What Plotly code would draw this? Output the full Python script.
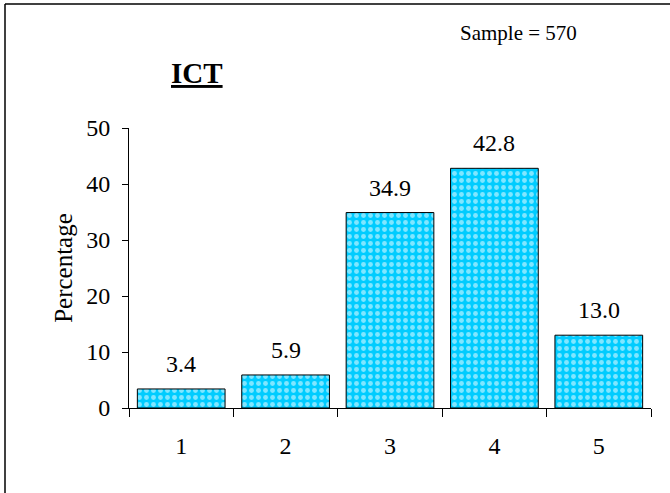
import plotly.graph_objects as go

categories = ["1", "2", "3", "4", "5"]
values = [3.4, 5.9, 34.9, 42.8, 13.0]
value_labels = ["3.4", "5.9", "34.9", "42.8", "13.0"]
y_ticks = [0, 10, 20, 30, 40, 50]

FONT = "Liberation Serif"
fig = go.Figure()
fig.add_trace(go.Bar(
    x=categories, y=values,
    marker=dict(
        color="#00CCFF",
        line=dict(color="black", width=1),
        pattern=dict(shape=".", fgcolor="white", bgcolor="#00CCFF", size=7, solidity=0.38),
    ),
    hoverinfo="skip",
))

for i, (v, t) in enumerate(zip(values, value_labels)):
    fig.add_annotation(x=i, y=v, text=t, showarrow=False, yanchor="bottom", yshift=10,
                       font=dict(family=FONT, size=24, color="black"))

fig.add_annotation(xref="paper", yref="paper", x=(197-129)/522, y=(408-73)/280, text="<b><u>ICT</u></b>",
                   xanchor="center", yanchor="middle",
                   showarrow=False, font=dict(family=FONT, size=29, color="black"))
fig.add_annotation(xref="paper", yref="paper", x=(518-129)/522, y=(408-33)/280, text="Sample = 570",
                   xanchor="center", yanchor="middle",
                   showarrow=False, font=dict(family=FONT, size=21, color="black"))

# outer border (left and top)
fig.add_shape(type="line", xref="paper", yref="paper", x0=(5-129)/522, x1=(670-129)/522,
              y0=(408-4)/280, y1=(408-4)/280, line=dict(color="black", width=1.5))
fig.add_shape(type="line", xref="paper", yref="paper", x0=(5-129)/522, x1=(5-129)/522,
              y0=(408-4)/280, y1=(408-493)/280, line=dict(color="black", width=1.5))

fig.update_layout(
    width=670, height=493,
    margin=dict(l=129, r=19, t=128, b=85),
    paper_bgcolor="white", plot_bgcolor="white",
    bargap=0.16, showlegend=False,
    font=dict(family=FONT, size=24, color="black"),
)
fig.update_xaxes(type="category", range=[-0.5, 4.5], tickson="boundaries", ticks="outside", ticklen=8,
                 tickcolor="black", showline=True, linecolor="black", linewidth=1,
                 showgrid=False, ticklabelstandoff=16, tickfont=dict(size=24))
fig.update_yaxes(range=[0, 50], tickvals=y_ticks, ticks="outside", ticklen=6, tickcolor="black",
                 showline=True, linecolor="black", linewidth=1, showgrid=False, zeroline=False,
                 ticklabelstandoff=7, tickfont=dict(size=24),
                 title=dict(text="Percentage", font=dict(size=25), standoff=6))

fig.write_html("out.html", config={"displayModeBar": False},
               post_script="document.body.style.margin='0';")
